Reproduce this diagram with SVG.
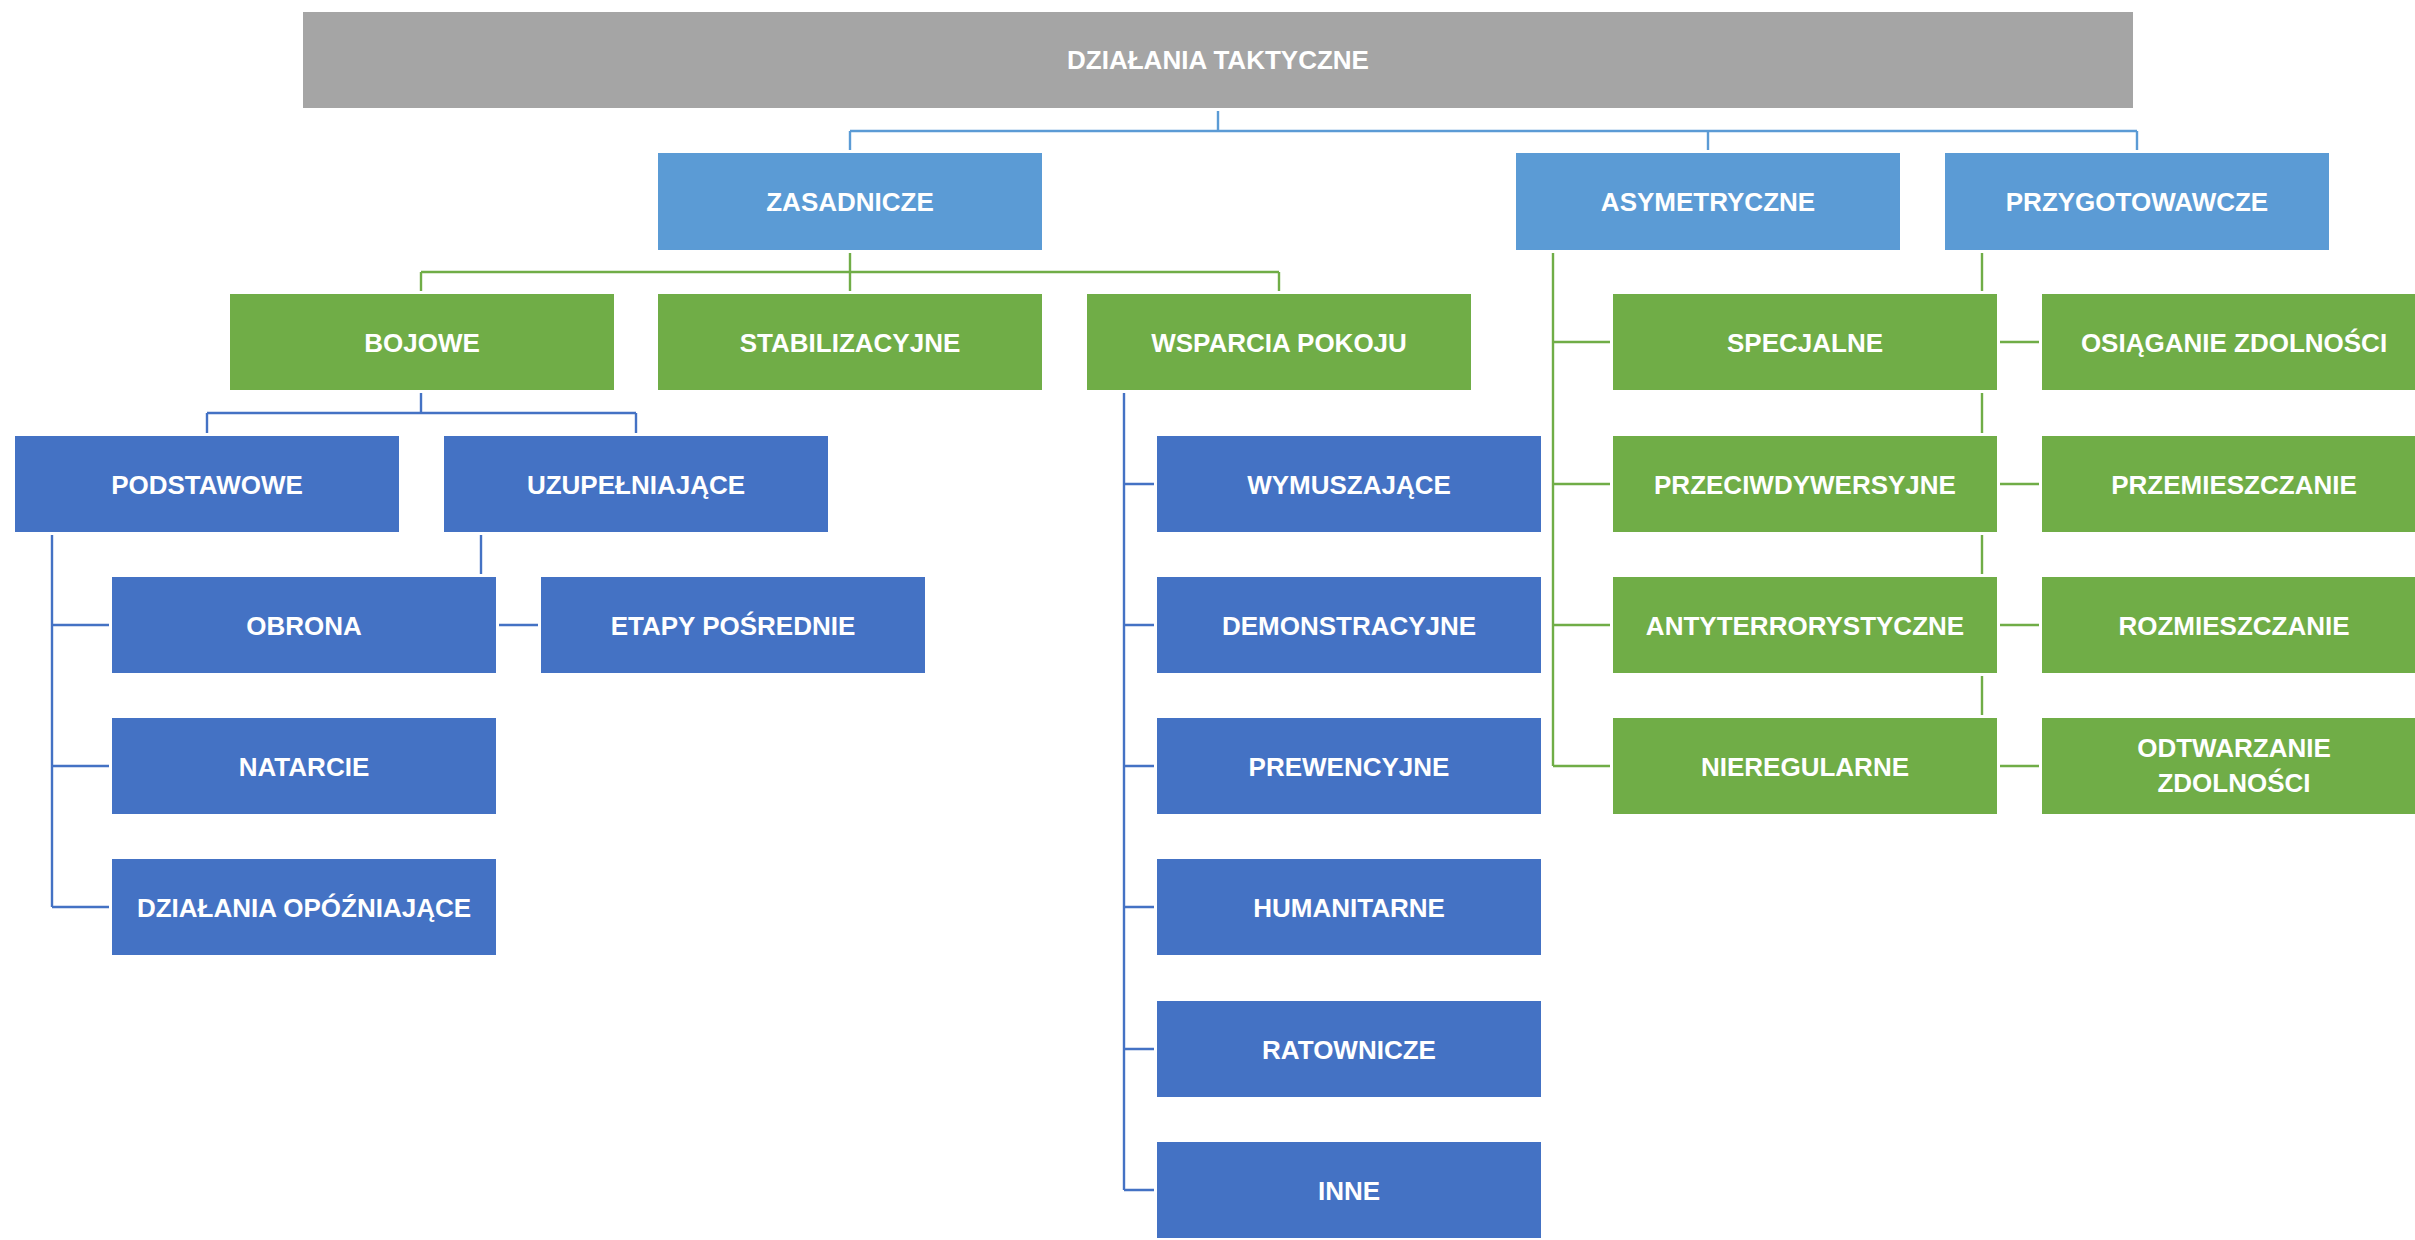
<svg xmlns="http://www.w3.org/2000/svg" width="2415" height="1240" viewBox="0 0 2415 1240">
<style>
  .box{stroke:#fff;stroke-width:3}
  .gray{fill:#A5A5A5}
  .lblue{fill:#5B9BD5}
  .green{fill:#70AD47}
  .blue{fill:#4472C4}
  .t{font-family:"Liberation Sans",Arial,sans-serif;font-weight:bold;font-size:26px;fill:#fff;text-anchor:middle}
  .c{fill:none;stroke-width:2.4}
  .cl{stroke:#5B9BD5}
  .cg{stroke:#70AD47}
  .cb{stroke:#4472C4}
</style>
<rect width="2415" height="1240" fill="#fff"/>
<g id="connectors">
  <path class="c cl" d="M1218 108V131M850 131H2137M850 131V153M1708 131V153M2137 131V153"/>
  <path class="c cg" d="M850 250V272M421 272H1279M421 272V294M850 272V294M1279 272V294"/>
  <path class="c cb" d="M421 390V413M207 413H636M207 413V436M636 413V436"/>
  <path class="c cb" d="M52 532V907M52 625H112M52 766H112M52 907H112"/>
  <path class="c cb" d="M481 532V625H541"/>
  <path class="c cb" d="M1124 390V1190M1124 484H1157M1124 625H1157M1124 766H1157M1124 907H1157M1124 1049H1157M1124 1190H1157"/>
  <path class="c cg" d="M1553 250V766M1553 342H1613M1553 484H1613M1553 625H1613M1553 766H1613"/>
  <path class="c cg" d="M1982 250V766M1982 342H2042M1982 484H2042M1982 625H2042M1982 766H2042"/>
</g>
<g id="n-root"><rect class="box gray" x="301.5" y="10.5" width="1833" height="99"/><text class="t" x="1218" y="69">DZIAŁANIA TAKTYCZNE</text></g>
<g id="n-zasadnicze"><rect class="box lblue" x="656.5" y="151.5" width="387" height="100"/><text class="t" x="850" y="211">ZASADNICZE</text></g>
<g id="n-asymetryczne"><rect class="box lblue" x="1514.5" y="151.5" width="387" height="100"/><text class="t" x="1708" y="211">ASYMETRYCZNE</text></g>
<g id="n-przygotowawcze"><rect class="box lblue" x="1943.5" y="151.5" width="387" height="100"/><text class="t" x="2137" y="211">PRZYGOTOWAWCZE</text></g>
<g id="n-bojowe"><rect class="box green" x="228.5" y="292.5" width="387" height="99"/><text class="t" x="422" y="351.5">BOJOWE</text></g>
<g id="n-stabilizacyjne"><rect class="box green" x="656.5" y="292.5" width="387" height="99"/><text class="t" x="850" y="351.5">STABILIZACYJNE</text></g>
<g id="n-wsparcia"><rect class="box green" x="1085.5" y="292.5" width="387" height="99"/><text class="t" x="1279" y="351.5">WSPARCIA POKOJU</text></g>
<g id="n-podstawowe"><rect class="box blue" x="13.5" y="434.5" width="387" height="99"/><text class="t" x="207" y="493.5">PODSTAWOWE</text></g>
<g id="n-uzupelniajace"><rect class="box blue" x="442.5" y="434.5" width="387" height="99"/><text class="t" x="636" y="493.5">UZUPEŁNIAJĄCE</text></g>
<g id="n-obrona"><rect class="box blue" x="110.5" y="575.5" width="387" height="99"/><text class="t" x="304" y="634.5">OBRONA</text></g>
<g id="n-etapy"><rect class="box blue" x="539.5" y="575.5" width="387" height="99"/><text class="t" x="733" y="634.5">ETAPY POŚREDNIE</text></g>
<g id="n-natarcie"><rect class="box blue" x="110.5" y="716.5" width="387" height="99"/><text class="t" x="304" y="775.5">NATARCIE</text></g>
<g id="n-opozniajace"><rect class="box blue" x="110.5" y="857.5" width="387" height="99"/><text class="t" x="304" y="916.5">DZIAŁANIA OPÓŹNIAJĄCE</text></g>
<g id="n-wymuszajace"><rect class="box blue" x="1155.5" y="434.5" width="387" height="99"/><text class="t" x="1349" y="493.5">WYMUSZAJĄCE</text></g>
<g id="n-demonstracyjne"><rect class="box blue" x="1155.5" y="575.5" width="387" height="99"/><text class="t" x="1349" y="634.5">DEMONSTRACYJNE</text></g>
<g id="n-prewencyjne"><rect class="box blue" x="1155.5" y="716.5" width="387" height="99"/><text class="t" x="1349" y="775.5">PREWENCYJNE</text></g>
<g id="n-humanitarne"><rect class="box blue" x="1155.5" y="857.5" width="387" height="99"/><text class="t" x="1349" y="916.5">HUMANITARNE</text></g>
<g id="n-ratownicze"><rect class="box blue" x="1155.5" y="999.5" width="387" height="99"/><text class="t" x="1349" y="1058.5">RATOWNICZE</text></g>
<g id="n-inne"><rect class="box blue" x="1155.5" y="1140.5" width="387" height="99"/><text class="t" x="1349" y="1199.5">INNE</text></g>
<g id="n-specjalne"><rect class="box green" x="1611.5" y="292.5" width="387" height="99"/><text class="t" x="1805" y="351.5">SPECJALNE</text></g>
<g id="n-przeciwdywersyjne"><rect class="box green" x="1611.5" y="434.5" width="387" height="99"/><text class="t" x="1805" y="493.5">PRZECIWDYWERSYJNE</text></g>
<g id="n-antyterrorystyczne"><rect class="box green" x="1611.5" y="575.5" width="387" height="99"/><text class="t" x="1805" y="634.5">ANTYTERRORYSTYCZNE</text></g>
<g id="n-nieregularne"><rect class="box green" x="1611.5" y="716.5" width="387" height="99"/><text class="t" x="1805" y="775.5">NIEREGULARNE</text></g>
<g id="n-osiaganie"><rect class="box green" x="2040.5" y="292.5" width="387" height="99"/><text class="t" x="2234" y="351.5">OSIĄGANIE ZDOLNOŚCI</text></g>
<g id="n-przemieszczanie"><rect class="box green" x="2040.5" y="434.5" width="387" height="99"/><text class="t" x="2234" y="493.5">PRZEMIESZCZANIE</text></g>
<g id="n-rozmieszczanie"><rect class="box green" x="2040.5" y="575.5" width="387" height="99"/><text class="t" x="2234" y="634.5">ROZMIESZCZANIE</text></g>
<g id="n-odtwarzanie"><rect class="box green" x="2040.5" y="716.5" width="387" height="99"/><text class="t" x="2234" y="757">ODTWARZANIE</text><text class="t" x="2234" y="792">ZDOLNOŚCI</text></g>
</svg>
